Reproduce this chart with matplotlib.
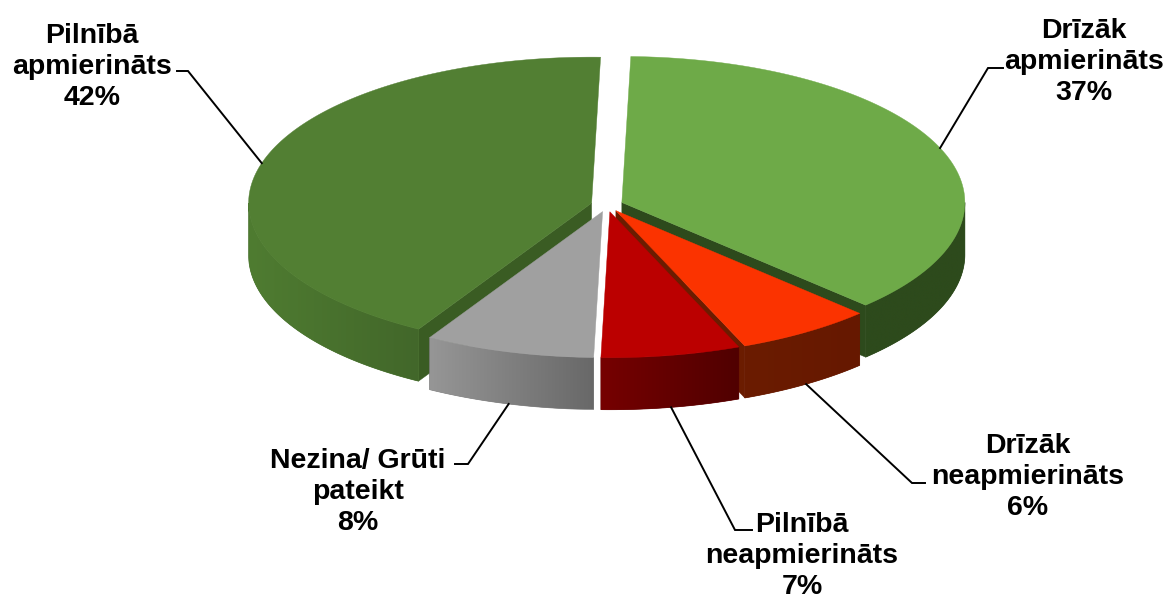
## 3D look pie, drawn by hand because matplotlib pie has no depth
import numpy as np
import matplotlib.pyplot as plt
from matplotlib.colors import to_rgb

plt.rcParams['font.family'] = ['Liberation Sans', 'DejaVu Sans']

names = ['Drīzāk\napmierināts', 'Drīzāk\nneapmierināts', 'Pilnībā\nneapmierināts',
         'Nezina/ Grūti\npateikt', 'Pilnībā\napmierināts']
values = [37, 6.45, 6.55, 8, 42]
top_colors = ['#6EAA48', '#FB3300', '#BB0000', '#A0A0A0', '#527F33']
side_left = ['#2D4A1C', '#6B1C00', '#760000', '#969696', '#4F7C31']
side_right = ['#2D4A1C', '#661800', '#500000', '#686868', '#42672A']
wall_colors = ['#2D4A1C', '#6B1C00', '#500000', '#7A7A7A', '#3A5C23']

W, H = 1169, 601
cx, cy = 607, 205
rx, ry = 343, 146
depth = 52
explode = 16
start_angle = 88.5

fig = plt.figure(figsize=(W / 100, H / 100), dpi=100)
ax = fig.add_axes([0, 0, 1, 1])


def rim(apex, a):
    return apex[0] + rx * np.cos(np.radians(a)), apex[1] - ry * np.sin(np.radians(a))


# angles go clockwise from the top
edges = start_angle - np.cumsum([0] + values) * 3.6
apexes = []
for i in range(len(values)):
    mid = np.radians((edges[i] + edges[i + 1]) / 2)
    apexes.append((cx + explode * np.cos(mid), cy - explode * ry / rx * np.sin(mid)))


def draw_wall(i, a, normal):
    if np.sin(np.radians(normal)) > -0.05:
        return
    x0, y0 = apexes[i]
    x1, y1 = rim(apexes[i], a)
    ax.fill([x0, x1, x1, x0], [y0, y1, y1 + depth, y0 + depth], color=wall_colors[i], lw=0.3)


def draw_slice(i):
    a0, a1 = edges[i], edges[i + 1]
    draw_wall(i, a0, a0 + 90)
    draw_wall(i, a1, a1 - 90)

    # outer side, only the front half of the ellipse shows
    vis0 = min(a0, 0)
    vis1 = max(a1, -180)
    if vis0 > vis1:
        aa = np.linspace(vis0, vis1, 120)
        xs, ys = rim(apexes[i], aa)
        px = np.r_[xs, xs[::-1]]
        py = np.r_[ys, ys[::-1] + depth]
        c0, c1 = np.array(to_rgb(side_left[i])), np.array(to_rgb(side_right[i]))
        poly = ax.fill(px, py, color=(c0 + c1) / 2, lw=0.5)[0]
        ramp = np.linspace(0, 1, 256)[None, :, None]
        img = ax.imshow(c0 + (c1 - c0) * ramp, aspect='auto', interpolation='bilinear',
                        extent=(xs.min(), xs.max(), py.max(), py.min()), zorder=poly.get_zorder())
        img.set_clip_path(poly)

    # top face
    aa = np.linspace(a0, a1, 200)
    xs, ys = rim(apexes[i], aa)
    ax.fill(np.r_[apexes[i][0], xs], np.r_[apexes[i][1], ys], color=top_colors[i], lw=0.3)


# back to front
for i in [0, 4, 1, 2, 3]:
    draw_slice(i)

# labels: centre of the text block, elbow of the leader, end of the stub near the text
label_pos = [(1084, 62), (1028, 477), (802, 556), (358, 492), (92, 67)]
elbows = [(988, 68), (912, 483), (735, 530), (468, 464), (188, 71)]
stubs = [(1003, 68), (925, 483), (752, 530), (455, 464), (177, 71)]

for i in range(len(values)):
    mid = (edges[i] + edges[i + 1]) / 2
    px, py = rim(apexes[i], mid)
    if np.sin(np.radians(mid)) < 0:
        py += depth
    ax.plot([px, elbows[i][0], stubs[i][0]], [py, elbows[i][1], stubs[i][1]],
            color='black', lw=1.4, solid_joinstyle='miter')
    ax.text(label_pos[i][0], label_pos[i][1], f'{names[i]}\n{round(values[i])}%',
            ha='center', va='center', fontsize=20.5, fontweight='bold',
            linespacing=1.27, color='black')

ax.set_xlim(0, W)
ax.set_ylim(H, 0)
ax.axis('off')
fig.savefig('out.png', dpi=100)
